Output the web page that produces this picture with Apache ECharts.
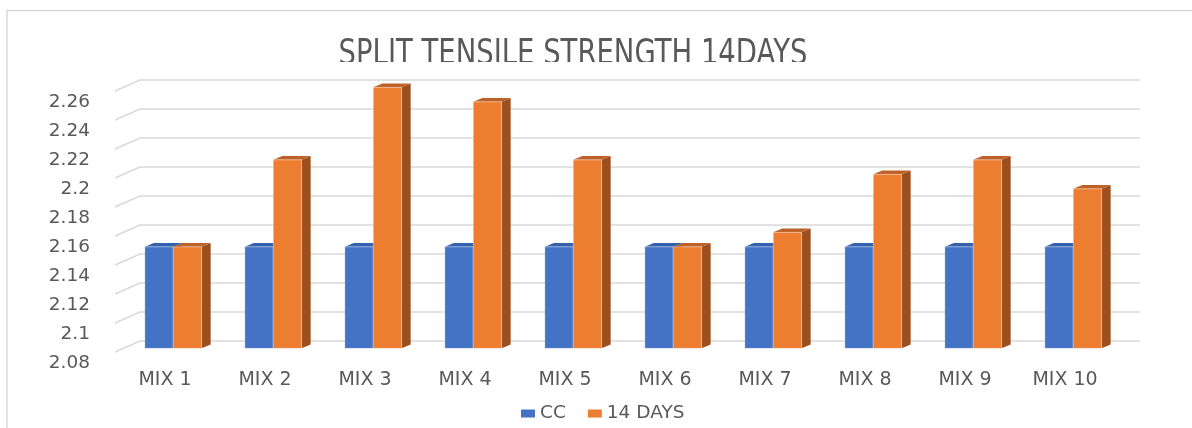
<!DOCTYPE html>
<html>
<head>
<meta charset="utf-8">
<title>Split tensile strength 14 days</title>
<script src="https://cdn.jsdelivr.net/npm/echarts@6/dist/echarts.min.js"></script>
<style>
  html, body { margin: 0; padding: 0; background: #ffffff; }
  #chart { width: 1192px; height: 428px; }
</style>
</head>
<body>
<div id="chart"></div>
<script>
// ---- data ----
const titleText = 'SPLIT TENSILE STRENGTH 14DAYS';
const categories = ['MIX 1', 'MIX 2', 'MIX 3', 'MIX 4', 'MIX 5', 'MIX 6', 'MIX 7', 'MIX 8', 'MIX 9', 'MIX 10'];
const seriesNames = ['CC', '14 DAYS'];
const ccValues = [2.15, 2.15, 2.15, 2.15, 2.15, 2.15, 2.15, 2.15, 2.15, 2.15];
const days14Values = [2.15, 2.21, 2.26, 2.25, 2.21, 2.15, 2.16, 2.20, 2.21, 2.19];
const yTicks = [2.08, 2.10, 2.12, 2.14, 2.16, 2.18, 2.20, 2.22, 2.24, 2.26];

// ---- 3D look ----
// depth vector from the front edge of the floor to the back wall (pixels)
const DEPTH = [25, -11];
// bars sit between these fractions of the depth
const BAR_FRONT = 0.33;
const BAR_BACK = 0.69;
// width of one bar as a fraction of a category band
const BAR_FRAC = 0.284;

const TEXT_COLOR = '#595959';
const GRID_COLOR = '#d9d9d9';
const FONT = '"DejaVu Sans", sans-serif';

const palette = {
  cc:   { front: '#4472C4', top: '#3461AE', side: '#2F528F' },
  days: { front: '#ED7D31', top: '#BC6128', side: '#9C4F1D' }
};

// gridlines on the back wall plus the slanted lines on the left side
function wallRender(params, api) {
  const v = api.value(1);
  const first = api.coord([0, v]);
  const last = api.coord([categories.length - 1, v]);
  const band = api.size([1, 0])[0];
  const x0 = first[0] - band / 2;
  const x1 = last[0] + band / 2;
  const y = first[1];
  return {
    type: 'polyline',
    silent: true,
    shape: {
      points: [
        [x0, y],
        [x0 + DEPTH[0], y + DEPTH[1]],
        [x1 + DEPTH[0], y + DEPTH[1]]
      ]
    },
    style: { stroke: GRID_COLOR, lineWidth: 1.4, fill: null }
  };
}

// a 3D column: right side face, top face, front face
function barRenderer(side, colors) {
  return function (params, api) {
    const i = api.value(0);
    const v = api.value(1);
    const top = api.coord([i, v]);
    const base = api.coord([i, yTicks[0]]);
    const band = api.size([1, 0])[0];
    const w = band * BAR_FRAC;
    const fx = DEPTH[0] * BAR_FRONT, fy = DEPTH[1] * BAR_FRONT;
    const dx = DEPTH[0] * (BAR_BACK - BAR_FRONT), dy = DEPTH[1] * (BAR_BACK - BAR_FRONT);
    const xl = top[0] + fx + (side < 0 ? -w : 0);
    const xr = xl + w;
    const yt = top[1] + fy;
    const yb = base[1] + fy;
    return {
      type: 'group',
      children: [
        {
          type: 'polygon',
          shape: { points: [[xr, yt], [xr + dx, yt + dy], [xr + dx, yb + dy], [xr, yb]] },
          style: { fill: colors.side }
        },
        {
          type: 'polygon',
          shape: { points: [[xl, yt], [xr, yt], [xr + dx, yt + dy], [xl + dx, yt + dy]] },
          style: { fill: colors.top }
        },
        {
          type: 'rect',
          shape: { x: xl, y: yt, width: w, height: yb - yt },
          style: { fill: colors.front, stroke: 'rgba(255,255,255,0.35)', lineWidth: 1 }
        }
      ]
    };
  };
}

const chart = echarts.init(document.getElementById('chart'), null, { renderer: 'canvas' });

chart.setOption({
  backgroundColor: '#ffffff',
  animation: false,
  textStyle: { fontFamily: FONT },
  grid: { left: 115, right: 77, top: 91, bottom: 76, containLabel: false },
  xAxis: {
    type: 'category',
    data: categories,
    axisLine: { show: false },
    axisTick: { show: false },
    splitLine: { show: false },
    axisLabel: {
      color: TEXT_COLOR,
      fontSize: 19,
      fontFamily: FONT,
      margin: 17,
      lineHeight: 22
    }
  },
  yAxis: {
    type: 'value',
    min: yTicks[0],
    max: yTicks[yTicks.length - 1],
    interval: 0.02,
    axisLine: { show: false },
    axisTick: { show: false },
    splitLine: { show: false },
    axisLabel: {
      color: TEXT_COLOR,
      fontSize: 18.5,
      fontFamily: FONT,
      margin: 25,
      verticalAlign: 'top',
      lineHeight: 22,
      formatter: function (v) { return String(parseFloat(v.toFixed(2))); }
    }
  },
  legend: {
    data: seriesNames,
    left: 521,
    top: 404,
    padding: 0,
    itemWidth: 14,
    itemHeight: 8,
    itemGap: 22,
    icon: 'rect',
    textStyle: { color: TEXT_COLOR, fontSize: 18.5, fontFamily: FONT }
  },
  graphic: [
    {
      type: 'rect',
      silent: true,
      z: 0,
      shape: { x: 7, y: 10.5, width: 1300, height: 600 },
      style: { fill: null, stroke: GRID_COLOR, lineWidth: 1.5 }
    },
    {
      type: 'text',
      silent: true,
      z: 1,
      x: 573,
      y: 55,
      scaleX: 0.785,
      style: {
        text: titleText,
        font: '35px ' + FONT,
        fill: TEXT_COLOR,
        align: 'center',
        verticalAlign: 'middle'
      }
    },
    {
      // plot area edge that cuts the lower part of the title
      type: 'rect',
      silent: true,
      z: 2,
      shape: { x: 300, y: 62, width: 560, height: 13 },
      style: { fill: '#ffffff' }
    }
  ],
  series: [
    {
      type: 'custom',
      name: 'walls',
      clip: false,
      silent: true,
      z: 1,
      data: yTicks.map(function (v) { return [0, v]; }),
      renderItem: wallRender
    },
    {
      type: 'custom',
      name: seriesNames[0],
      clip: false,
      z: 2,
      itemStyle: { color: palette.cc.front },
      data: ccValues.map(function (v, i) { return [i, v]; }),
      renderItem: barRenderer(-1, palette.cc)
    },
    {
      type: 'custom',
      name: seriesNames[1],
      clip: false,
      z: 3,
      itemStyle: { color: palette.days.front },
      data: days14Values.map(function (v, i) { return [i, v]; }),
      renderItem: barRenderer(1, palette.days)
    }
  ]
});
</script>
</body>
</html>
